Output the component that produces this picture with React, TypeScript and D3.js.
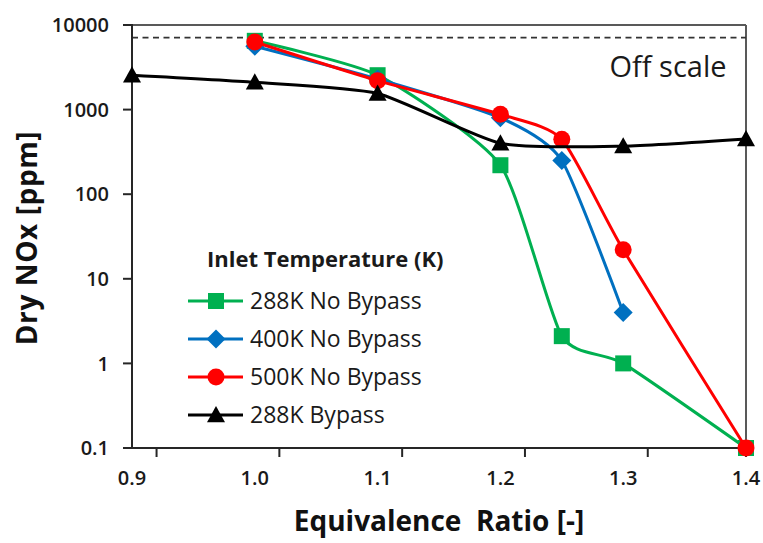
import React from "react";
import * as d3 from "d3";

const seriesNames = ["288K No Bypass", "400K No Bypass", "500K No Bypass", "288K Bypass"];
const seriesColors = ["#00B050", "#0070C0", "#FF0000", "#000000"];
const seriesMarkers = ["square", "diamond", "circle", "triangle"];

const greenX = [1.0, 1.1, 1.2, 1.25, 1.3, 1.4];
const greenY = [6500, 2550, 220, 2.1, 1.0, 0.1];
const blueX = [1.0, 1.1, 1.2, 1.25, 1.3];
const blueY = [5600, 2300, 800, 250, 4.0];
const redX = [1.0, 1.1, 1.2, 1.25, 1.3, 1.4];
const redY = [6300, 2200, 880, 446, 22, 0.1];
const blackX = [0.9, 1.0, 1.1, 1.2, 1.3, 1.4];
const blackY = [2550, 2100, 1550, 400, 370, 450];

const xTickLabels = [0.9, 1.0, 1.1, 1.2, 1.3, 1.4];
const xTickMarks = [0.92, 1.02, 1.12, 1.22, 1.32];
const yTicks = [0.1, 1, 10, 100, 1000, 10000];
const offScaleLevel = 7100;

const W = 763;
const H = 543;
const M = { left: 132, top: 25, right: 746, bottom: 448 };
const FONT = "'Open Sans', 'Noto Sans', sans-serif";

function Marker({ type, x, y, color }: { type: string; x: number; y: number; color: string }) {
  if (type === "square") {
    return <rect x={x - 8} y={y - 8} width={16} height={16} fill={color} />;
  }
  if (type === "diamond") {
    const s = 9.5;
    return <path d={`M${x},${y - s}L${x + s},${y}L${x},${y + s}L${x - s},${y}Z`} fill={color} />;
  }
  if (type === "circle") {
    return <circle cx={x} cy={y} r={8.5} fill={color} />;
  }
  const s = 9;
  return <path d={`M${x},${y - s}L${x + s},${y + s * 0.8}L${x - s},${y + s * 0.8}Z`} fill={color} />;
}

export default function App() {
  const x = d3.scaleLinear().domain([0.9, 1.4]).range([M.left, M.right]);
  const y = d3.scaleLog().domain([0.1, 10000]).range([M.bottom, M.top]);
  const line = d3
    .line<[number, number]>()
    .x((d) => x(d[0]))
    .y((d) => y(d[1]))
    .curve(d3.curveCardinal.tension(0.4));

  const series = [
    { xs: greenX, ys: greenY },
    { xs: blueX, ys: blueY },
    { xs: redX, ys: redY },
    { xs: blackX, ys: blackY },
  ];

  const legendRows = [301, 339, 377, 415];

  return (
    <svg
      width={W}
      height={H}
      style={{ position: "absolute", left: 0, top: 0, background: "#fff" }}
      fontFamily={FONT}
    >
      <rect x={0} y={0} width={W} height={H} fill="#fff" />
      {/* plot frame */}
      <line x1={M.left} x2={M.right} y1={M.top} y2={M.top} stroke="#595959" strokeWidth={2} />
      <line x1={M.right} x2={M.right} y1={M.top} y2={M.bottom} stroke="#595959" strokeWidth={2} />
      {/* dashed off-scale line */}
      <line
        x1={M.left}
        x2={M.right}
        y1={y(offScaleLevel)}
        y2={y(offScaleLevel)}
        stroke="#333"
        strokeWidth={1.6}
        strokeDasharray="6,4.5"
      />
      <text x={668} y={77} fontSize={29} fill="#1a1a1a" textAnchor="middle">
        Off scale
      </text>

      {/* axes */}
      <line x1={M.left} x2={M.left} y1={M.top - 1} y2={M.bottom} stroke="#262626" strokeWidth={2} />
      <line x1={M.left - 9} x2={M.right + 1} y1={M.bottom} y2={M.bottom} stroke="#262626" strokeWidth={2} />
      {yTicks.map((t) => (
        <g key={"y" + t}>
          <line x1={M.left - 9} x2={M.left} y1={y(t)} y2={y(t)} stroke="#262626" strokeWidth={2} />
          <text
            x={M.left - 23}
            y={y(t)}
            dy="0.36em"
            textAnchor="end"
            fontSize={20}
            fontWeight={600}
            fill="#1a1a1a"
          >
            {String(t)}
          </text>
        </g>
      ))}
      {xTickMarks.map((t) => (
        <line key={"xm" + t} x1={x(t)} x2={x(t)} y1={M.bottom} y2={M.bottom + 9} stroke="#262626" strokeWidth={2} />
      ))}
      <line x1={M.right} x2={M.right} y1={M.bottom} y2={M.bottom + 9} stroke="#262626" strokeWidth={2} />
      {xTickLabels.map((t) => (
        <text
          key={"xl" + t}
          x={x(t)}
          y={485}
          textAnchor="middle"
          fontSize={20}
          fontWeight={600}
          fill="#1a1a1a"
        >
          {t.toFixed(1)}
        </text>
      ))}

      {/* axis titles */}
      <text
        transform={`translate(37,238) rotate(-90)`}
        textAnchor="middle"
        fontSize={28}
        fontWeight={700}
        letterSpacing={0.6}
        fill="#111"
      >
        Dry NOx [ppm]
      </text>
      <text x={439} y={531} textAnchor="middle" fontSize={28} fontWeight={700} fill="#111" xmlSpace="preserve">
        Equivalence  Ratio [-]
      </text>

      {/* series */}
      {series.map((s, i) => {
        const pts: [number, number][] = s.xs.map((v, j) => [v, s.ys[j]]);
        return (
          <g key={"s" + i}>
            <path d={line(pts) || ""} fill="none" stroke={seriesColors[i]} strokeWidth={3} />
            {pts.map((p, j) => (
              <Marker key={j} type={seriesMarkers[i]} x={x(p[0])} y={y(p[1])} color={seriesColors[i]} />
            ))}
          </g>
        );
      })}

      {/* legend */}
      <text x={207} y={267} fontSize={22} fontWeight={700} fill="#1a1a1a">
        Inlet Temperature (K)
      </text>
      {seriesNames.map((n, i) => (
        <g key={"lg" + i}>
          <line x1={188} x2={243} y1={legendRows[i]} y2={legendRows[i]} stroke={seriesColors[i]} strokeWidth={3} />
          <Marker type={seriesMarkers[i]} x={216} y={legendRows[i]} color={seriesColors[i]} />
          <text x={250} y={legendRows[i]} dy="0.36em" fontSize={23} fontWeight={500} fill="#1a1a1a">
            {n}
          </text>
        </g>
      ))}
    </svg>
  );
}
